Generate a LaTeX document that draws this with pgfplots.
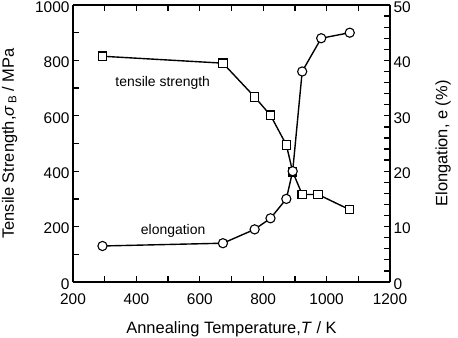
\documentclass[border=0pt]{standalone}
\usepackage{fontspec}
\setmainfont{Liberation Sans}
\usepackage{pgfplots}
\pgfplotsset{compat=1.18}
\usetikzlibrary{calc}

% tensile strength (MPa) against annealing temperature (K)
\pgfplotstableread{
T    s
293  815
673  790
773  668
823  602
873  495
893  398
923  316
973  316
1073 261
}\strength

% elongation (%) against annealing temperature (K)
\pgfplotstableread{
T    e
293  6.5
673  7.0
773  9.5
823  11.5
873  15.0
893  20.0
923  38.0
983  44.0
1073 45.0
}\elong

\pgfplotsset{
  common/.style={
    scale only axis,
    width=317bp, height=277bp,
    xmin=200, xmax=1200,
    axis line style={line width=1.7pt},
    tick style={line width=1.3pt, black},
    tick align=inside,
    major tick length=6bp,
    minor tick length=6bp,
    /pgf/number format/assume math mode=true,
    /pgf/number format/1000 sep={},
    tick label style={font=\fontsize{15.5}{18}\selectfont},
    yticklabel style={yshift=-2bp},
    label style={font=\fontsize{16.5}{19}\selectfont},
  },
}

\begin{document}
\begin{tikzpicture}
\begin{axis}[common,
    axis y line*=left,
    ymin=0, ymax=1000,
    xtick={200,400,...,1200},
    minor xtick={300,500,...,1100},
    ytick={0,200,...,1000},
    minor ytick={100,300,...,900},
    xticklabel style={yshift=-8bp},
    xlabel={Annealing Temperature,\textit{T} / K},
    xlabel style={yshift=-10bp},
    ylabel={Tensile Strength,\textit{σ}\textsubscript{\,B} / MPa},
    ylabel style={yshift=11bp},
    axis x line*=box,
  ]
  \coordinate (bl) at (rel axis cs:0,0);
  \coordinate (tr) at (rel axis cs:1,1);
  \addplot[black, line width=1.4pt, mark=square*, mark size=4.2bp,
           mark options={fill=white, draw=black, line width=1.1pt}]
    table[x=T, y=s] {\strength};
  \node[font=\fontsize{14}{16}\selectfont] at (axis cs:483,717) {tensile strength};
  \node[font=\fontsize{14}{16}\selectfont] at (axis cs:516,183) {elongation};
\end{axis}
\begin{axis}[common,
    axis y line*=right,
    axis x line=none,
    ymin=0, ymax=50,
    ytick={0,10,...,50},
    minor ytick={2,4,6,8,12,14,16,18,22,24,26,28,32,34,36,38,42,44,46,48},
    ylabel={Elongation, e (\%)},
    ylabel style={yshift=-18bp},
  ]
  \addplot[black, line width=1.4pt, mark=*, mark size=4.6bp,
           mark options={fill=white, draw=black, line width=1.1pt}]
    table[x=T, y=e] {\elong};
\end{axis}
\pgfresetboundingbox
\path[use as bounding box] ($(bl)+(-73bp,-56bp)$) rectangle ($(tr)+(68bp,5bp)$);
\end{tikzpicture}
\end{document}
